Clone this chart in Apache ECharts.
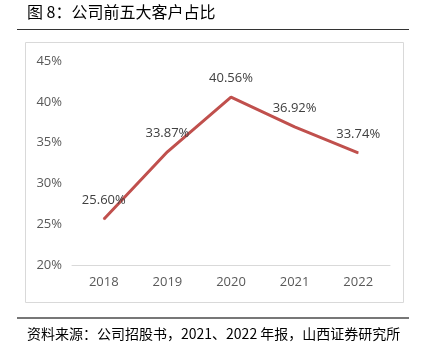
<!DOCTYPE html>
<html lang="zh">
<head>
<meta charset="UTF-8">
<title>图 8：公司前五大客户占比</title>
<script src="https://cdn.jsdelivr.net/npm/echarts@6/dist/echarts.min.js"></script>
<style>
  html, body { margin: 0; padding: 0; background: #fff; }
  #main { width: 422px; height: 353px; }
</style>
</head>
<body>
<div id="main"></div>
<script>
  // 数据
  var years = ['2018', '2019', '2020', '2021', '2022'];
  var ratio = [25.60, 33.87, 40.56, 36.92, 33.74];
  var yTicks = [20, 25, 30, 35, 40, 45];

  var chart = echarts.init(document.getElementById('main'));
  var option = {
    animation: false,
    graphic: [
      {type: 'text', left: 27, top: 4, style: {text: '图 8：公司前五大客户占比', font: '16px "Noto Sans CJK SC"', fill: '#000'}},
      {type: 'line', shape: {x1: 17, y1: 29.5, x2: 409, y2: 29.5}, style: {stroke: '#333', lineWidth: 1}},
      {type: 'rect', shape: {x: 25.5, y: 42.5, width: 378, height: 260}, style: {fill: 'none', stroke: '#d9d9d9', lineWidth: 1}},
      {type: 'line', shape: {x1: 17, y1: 318, x2: 409, y2: 318}, style: {stroke: '#777', lineWidth: 2}},
      {type: 'text', left: 27, top: 327, style: {text: '资料来源：公司招股书，2021、2022 年报，山西证券研究所', font: '14px "Noto Sans CJK SC"', fill: '#000'}}
    ],
    grid: {left: 72, right: 32, top: 61, bottom: 88},
    xAxis: {
      type: 'category',
      data: years,
      axisLine: {lineStyle: {color: '#d9d9d9'}},
      axisTick: {show: false},
      axisLabel: {color: '#595959', fontSize: 13, margin: 11, fontFamily: 'Open Sans'}
    },
    yAxis: {
      type: 'value',
      min: yTicks[0],
      max: yTicks[yTicks.length - 1],
      interval: 5,
      axisLine: {show: false},
      axisTick: {show: false},
      splitLine: {show: false},
      axisLabel: {color: '#595959', fontSize: 13, margin: 10, fontFamily: 'Open Sans', formatter: '{value}%'}
    },
    series: [{
      type: 'line',
      data: ratio,
      symbol: 'circle',
      symbolSize: 1,
      showSymbol: true,
      itemStyle: {color: '#C0504D'},
      lineStyle: {color: '#C0504D', width: 3},
      label: {
        show: true,
        position: 'top',
        distance: 12,
        color: '#404040',
        opacity: 1,
        fontSize: 13,
        fontFamily: 'Open Sans',
        formatter: function (p) { return p.value.toFixed(2) + '%'; }
      }
    }]
  };
  chart.setOption(option);
</script>
</body>
</html>
